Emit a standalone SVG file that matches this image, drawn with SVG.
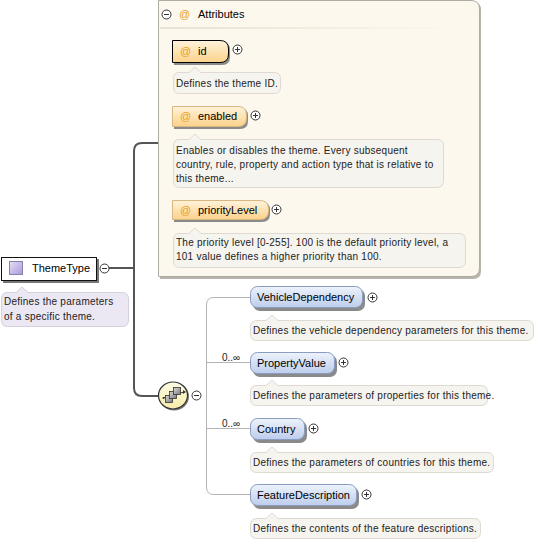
<svg xmlns="http://www.w3.org/2000/svg" width="542" height="542" viewBox="0 0 542 542">
<defs>
<linearGradient id="gBlue" x1="0" y1="0" x2="0" y2="1"><stop offset="0" stop-color="#eef3fc"/><stop offset="1" stop-color="#bccdec"/></linearGradient>
<linearGradient id="gOrange" x1="0" y1="0" x2="0" y2="1"><stop offset="0" stop-color="#fff3dc"/><stop offset="1" stop-color="#fbd28a"/></linearGradient>
<linearGradient id="gYellow" x1="0" y1="0" x2="0" y2="1"><stop offset="0" stop-color="#fffde8"/><stop offset="1" stop-color="#f6eca8"/></linearGradient>
<linearGradient id="gPurple" x1="0" y1="0" x2="1" y2="1"><stop offset="0" stop-color="#e6e0f6"/><stop offset="1" stop-color="#a898d8"/></linearGradient>
<linearGradient id="gGray" x1="0" y1="0" x2="1" y2="1"><stop offset="0" stop-color="#d8d8d8"/><stop offset="1" stop-color="#7a7a7a"/></linearGradient>
<linearGradient id="gSep" x1="0" y1="0" x2="1" y2="0"><stop offset="0" stop-color="#e8e2d4"/><stop offset="1" stop-color="#fcf8ee"/></linearGradient>
</defs>
<style>
.lbl{font-family:"Liberation Sans",Arial,sans-serif;font-size:11px;fill:#000}
.desc{font-family:"Liberation Sans",Arial,sans-serif;font-size:10px;letter-spacing:0.25px;fill:#222}
.at{font-family:"Liberation Sans",Arial,sans-serif;font-size:11px;fill:#e8a020}
.occ{font-family:"Liberation Sans",Arial,sans-serif;font-size:10px;fill:#222}
.dbox{fill:#f6f4ef;stroke:#dedad2;stroke-width:1}
.ebox{fill:url(#gBlue);stroke:#8a9cc0;stroke-width:1}
.abox{fill:url(#gOrange);stroke:#d8b880;stroke-width:1}
.shadow{fill:#8a8a8a}
.btn{fill:#fff;stroke:#333;stroke-width:1}
.btnl{stroke:#333;stroke-width:1;fill:none}
.conn{fill:none;stroke:#555;stroke-width:2}
.conn2{fill:none;stroke:#b4b4b4;stroke-width:1}
</style>

<g id="connectors">
<line class="conn" x1="109" y1="268" x2="134" y2="268"/>
<path class="conn" d="M158,143 H142 Q134,143 134,151 V388 Q134,396 142,396 H159"/>
<path class="conn2" d="M250,297.5 H214 Q206.5,297.5 206.5,305 V487 Q206.5,494.5 214,494.5 H250"/>
<line class="conn2" x1="206" y1="362.5" x2="250" y2="362.5"/>
<line class="conn2" x1="206" y1="428.5" x2="250" y2="428.5"/>
<text class="occ" x="222" y="361">0..∞</text>
<text class="occ" x="222" y="427">0..∞</text>
</g>

<g id="attributes">
<path d="M160,2 H473 Q481,2 481,10 V271 Q481,279 473,279 H160 Z" fill="#b8b4ac"/>
<path d="M158.5,0.5 H471 Q479.5,0.5 479.5,9 V268 Q479.5,276.5 471,276.5 H158.5 Z" fill="#fcf8ee" stroke="#b0aca4" stroke-width="1"/>
<rect x="160" y="27" width="300" height="2" fill="url(#gSep)"/>
<circle class="btn" cx="166.5" cy="14.5" r="4.5"/>
<line class="btnl" x1="164" y1="14.5" x2="169" y2="14.5"/>
<text class="at" x="179" y="18">@</text>
<text class="lbl" x="198" y="18">Attributes</text>
</g>

<g id="attr-id">
<path d="M174,42 H222 Q230,42 230,50 V57 Q230,65 222,65 H174 Z" class="shadow"/>
<path d="M172.5,40.5 H220 Q228.5,40.5 228.5,49 V54 Q228.5,62.5 220,62.5 H172.5 Z" fill="url(#gOrange)" stroke="#000" stroke-width="1"/>
<text class="at" x="180" y="55">@</text>
<text class="lbl" x="198" y="55">id</text>
<circle class="btn" cx="237.5" cy="49.5" r="4.5"/>
<path class="btnl" d="M235,49.5 H240 M237.5,47 V52"/>
<path class="dbox" d="M179,72.5 H189 L195,67 L201,72.5 H274 Q280.5,72.5 280.5,79 V87 Q280.5,93.5 274,93.5 H179.5 Q173.5,93.5 173.5,87 V79 Q173.5,72.5 179,72.5 Z"/>
<text class="desc" x="176" y="87">Defines the theme ID.</text>
</g>

<g id="attr-enabled">
<path d="M174,108 H240 Q248,108 248,116 V121 Q248,129 240,129 H174 Z" class="shadow"/>
<path d="M172.5,106.5 H238 Q246.5,106.5 246.5,115 V118 Q246.5,126.5 238,126.5 H172.5 Z" class="abox"/>
<text class="at" x="180" y="120">@</text>
<text class="lbl" x="198" y="120">enabled</text>
<circle class="btn" cx="255.5" cy="115.5" r="4.5"/>
<path class="btnl" d="M253,115.5 H258 M255.5,113 V118"/>
<path class="dbox" d="M179,139.5 H189 L195,134 L201,139.5 H437 Q443.5,139.5 443.5,146 V180 Q443.5,187.5 437,187.5 H179.5 Q173.5,187.5 173.5,181 V146 Q173.5,139.5 179,139.5 Z"/>
<text class="desc" x="176" y="154">Enables or disables the theme. Every subsequent</text>
<text class="desc" x="176" y="168">country, rule, property and action type that is relative to</text>
<text class="desc" x="176" y="182">this theme...</text>
</g>

<g id="attr-priorityLevel">
<path d="M174,202 H262 Q270,202 270,210 V214 Q270,222 262,222 H174 Z" class="shadow"/>
<path d="M172.5,200.5 H260 Q268.5,200.5 268.5,209 V211 Q268.5,219.5 260,219.5 H172.5 Z" class="abox"/>
<text class="at" x="180" y="214">@</text>
<text class="lbl" x="198" y="214">priorityLevel</text>
<circle class="btn" cx="276.5" cy="209.5" r="4.5"/>
<path class="btnl" d="M274,209.5 H279 M276.5,207 V212"/>
<path class="dbox" d="M179,233.5 H189 L195,228 L201,233.5 H459 Q465.5,233.5 465.5,240 V261 Q465.5,267.5 459,267.5 H179.5 Q173.5,267.5 173.5,261 V240 Q173.5,233.5 179,233.5 Z"/>
<text class="desc" x="176" y="246">The priority level [0-255]. 100 is the default priority level, a</text>
<text class="desc" x="176" y="260">101 value defines a higher priority than 100.</text>
</g>

<g id="ThemeType">
<rect x="3" y="259" width="96" height="24" fill="#777"/>
<rect x="1.5" y="257.5" width="95" height="23" fill="#fff" stroke="#111" stroke-width="1"/>
<rect x="9.5" y="261.5" width="13" height="13" fill="url(#gPurple)" stroke="#8a80b0" stroke-width="1"/>
<text class="lbl" x="32" y="272">ThemeType</text>
<circle class="btn" cx="104.5" cy="268.5" r="4.5"/>
<line class="btnl" x1="102" y1="268.5" x2="107" y2="268.5"/>
<path d="M7,292.5 H16 L22,287 L28,292.5 H122 Q128.5,292.5 128.5,299 V320 Q128.5,326.5 122,326.5 H7.5 Q1.5,326.5 1.5,320 V299 Q1.5,292.5 7,292.5 Z" fill="#ebe8f4" stroke="#d4d0e0" stroke-width="1"/>
<text class="desc" x="4" y="305">Defines the parameters</text>
<text class="desc" x="4" y="320">of a specific theme.</text>
</g>

<g id="sequence">
<ellipse cx="174" cy="396.5" rx="15" ry="14" fill="#777"/>
<ellipse cx="173" cy="395.5" rx="14.5" ry="13.5" fill="url(#gYellow)" stroke="#333" stroke-width="1.2"/>
<line x1="163" y1="398" x2="184" y2="392" stroke="#333" stroke-width="1"/>
<circle cx="163.5" cy="398" r="1" fill="#333"/>
<path d="M183,390 L186,392 L183,394 Z" fill="#333"/>
<rect x="165.5" y="395.5" width="7" height="7" fill="url(#gGray)" stroke="#333" stroke-width="0.8"/>
<rect x="169.5" y="391.5" width="7" height="7" fill="url(#gGray)" stroke="#333" stroke-width="0.8"/>
<rect x="173.5" y="387.5" width="7" height="7" fill="url(#gGray)" stroke="#333" stroke-width="0.8"/>
<circle class="btn" cx="196.5" cy="395.5" r="4.5"/>
<line class="btnl" x1="194" y1="395.5" x2="199" y2="395.5"/>
</g>

<g id="VehicleDependency">
<rect x="253" y="289" width="112" height="22" rx="7" class="shadow"/>
<rect x="250.5" y="286.5" width="112" height="21" rx="7" class="ebox"/>
<text class="lbl" x="257" y="301">VehicleDependency</text>
<circle class="btn" cx="372.5" cy="297.5" r="4.5"/>
<path class="btnl" d="M370,297.5 H375 M372.5,295 V300"/>
<path class="dbox" d="M257,320.5 H266 L272,315 L278,320.5 H527 Q533.5,320.5 533.5,327 V334 Q533.5,340.5 527,340.5 H256.5 Q250.5,340.5 250.5,334 V327 Q250.5,320.5 257,320.5 Z"/>
<text class="desc" x="253" y="334">Defines the vehicle dependency parameters for this theme.</text>
</g>

<g id="PropertyValue">
<rect x="253" y="355" width="84" height="22" rx="7" class="shadow"/>
<rect x="250.5" y="352.5" width="84" height="21" rx="7" class="ebox"/>
<text class="lbl" x="257" y="367">PropertyValue</text>
<circle class="btn" cx="343.5" cy="362.5" r="4.5"/>
<path class="btnl" d="M341,362.5 H346 M343.5,360 V365"/>
<path class="dbox" d="M257,385.5 H266 L272,380 L278,385.5 H481 Q487.5,385.5 487.5,392 V399 Q487.5,405.5 481,405.5 H256.5 Q250.5,405.5 250.5,399 V392 Q250.5,385.5 257,385.5 Z"/>
<text class="desc" x="253" y="399">Defines the parameters of properties for this theme.</text>
</g>

<g id="Country">
<rect x="253" y="421" width="54" height="22" rx="7" class="shadow"/>
<rect x="250.5" y="418.5" width="54" height="21" rx="7" class="ebox"/>
<text class="lbl" x="257" y="433">Country</text>
<circle class="btn" cx="313.5" cy="428.5" r="4.5"/>
<path class="btnl" d="M311,428.5 H316 M313.5,426 V431"/>
<path class="dbox" d="M257,452.5 H266 L272,447 L278,452.5 H487 Q493.5,452.5 493.5,459 V466 Q493.5,472.5 487,472.5 H256.5 Q250.5,472.5 250.5,466 V459 Q250.5,452.5 257,452.5 Z"/>
<text class="desc" x="253" y="466">Defines the parameters of countries for this theme.</text>
</g>

<g id="FeatureDescription">
<rect x="253" y="487" width="106" height="22" rx="7" class="shadow"/>
<rect x="250.5" y="484.5" width="106" height="21" rx="7" class="ebox"/>
<text class="lbl" x="257" y="499">FeatureDescription</text>
<circle class="btn" cx="366.5" cy="494.5" r="4.5"/>
<path class="btnl" d="M364,494.5 H369 M366.5,492 V497"/>
<path class="dbox" d="M257,518.5 H266 L272,513 L278,518.5 H474 Q480.5,518.5 480.5,525 V532 Q480.5,538.5 474,538.5 H256.5 Q250.5,538.5 250.5,532 V525 Q250.5,518.5 257,518.5 Z"/>
<text class="desc" x="253" y="532">Defines the contents of the feature descriptions.</text>
</g>
</svg>
